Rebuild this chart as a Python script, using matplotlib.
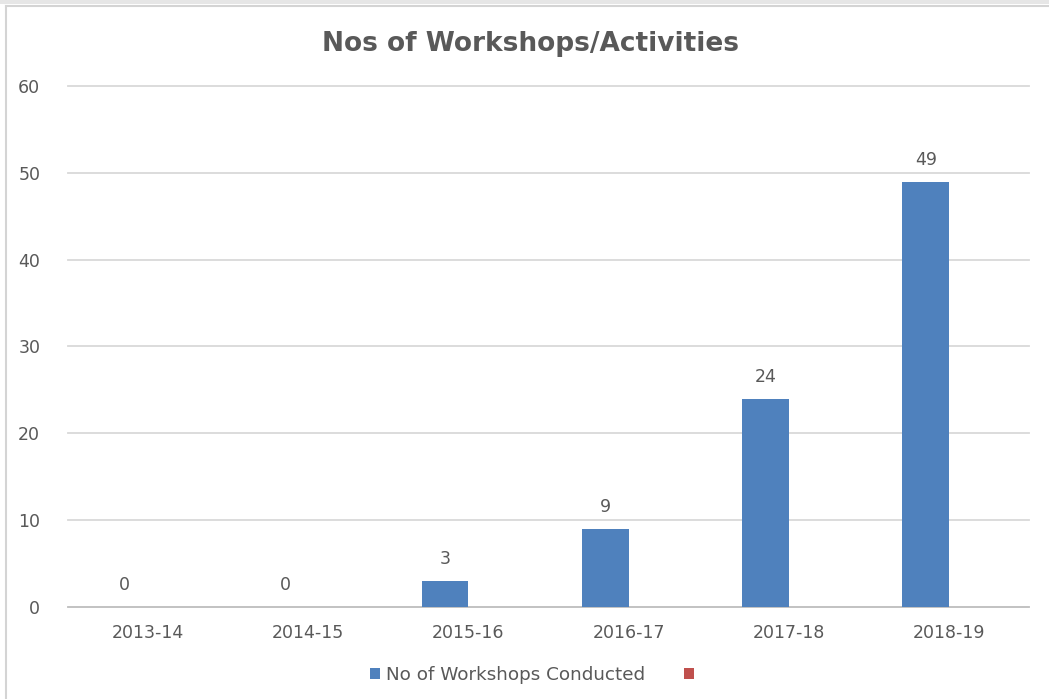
import matplotlib
matplotlib.use("Agg")
import matplotlib.pyplot as plt
from matplotlib.patches import Patch, Rectangle
import numpy as np

categories = ["2013-14", "2014-15", "2015-16", "2016-17", "2017-18", "2018-19"]
workshops = [0, 0, 3, 9, 24, 49]
second_series = [0, 0, 0, 0, 0, 0]
yticks = [0, 10, 20, 30, 40, 50, 60]

title = "Nos of Workshops/Activities"
legend_label = "No of Workshops Conducted"

BLUE = "#4F81BD"
RED = "#C0504D"
TXT = "#595959"
GRID = "#D9D9D9"

plt.rcParams['font.family'] = ['DejaVu Sans']

W, H = 1049, 699
fig = plt.figure(figsize=(W / 100, H / 100), dpi=100)
fig.patch.set_facecolor("white")

# screenshot frame
fig.add_artist(Rectangle((0, 1 - 4 / H), 1, 4 / H, transform=fig.transFigure,
                         facecolor="#E6E6E6", edgecolor="none"))
fig.add_artist(plt.Line2D([6 / W, 1], [1 - 5.5 / H, 1 - 5.5 / H], transform=fig.transFigure,
                          color="#D4D4D4", lw=1.5))
fig.add_artist(plt.Line2D([6 / W, 6 / W], [0, 1 - 5.5 / H], transform=fig.transFigure,
                          color="#D4D4D4", lw=1.5))

left, right = 68 / W, 1029 / W
bottom, top = (H - 607) / H, (H - 86) / H
ax = fig.add_axes([left, bottom, right - left, top - bottom])

x = np.arange(len(categories))
bw = 0.29
b1 = ax.bar(x - bw / 2, workshops, width=bw, color=BLUE, zorder=3)
b2 = ax.bar(x + bw / 2, second_series, width=bw, color=RED, zorder=3)
ax.bar_label(b1, labels=[str(v) for v in workshops], padding=9, color=TXT, fontsize=12.5)

ax.set_xlim(-0.5, len(categories) - 0.5)
ax.set_ylim(0, 60)
ax.set_yticks(yticks)
ax.set_yticklabels([str(t) for t in yticks])
ax.set_xticks(x)
ax.set_xticklabels(categories)
ax.tick_params(axis="y", length=0, pad=20, labelsize=12.5, labelcolor=TXT)
ax.tick_params(axis="x", length=0, pad=12, labelsize=12.5, labelcolor=TXT)
for s in ["left", "right", "top"]:
    ax.spines[s].set_visible(False)
ax.spines["bottom"].set_color("#BFBFBF")
ax.spines["bottom"].set_linewidth(1.2)
ax.yaxis.grid(True, color=GRID, lw=1.3, zorder=0)
for gl in ax.yaxis.get_gridlines():
    gl.set_clip_on(False)
ax.set_axisbelow(True)

fig.text(0.506, 1 - 44 / H, title, ha="center", va="center", fontsize=19,
         fontweight="bold", color=TXT)

handles = [Patch(facecolor=BLUE), Patch(facecolor=RED)]
fig.legend(handles, [legend_label, ""], loc="center", bbox_to_anchor=(0.510, 1 - 675 / H),
           ncol=2, frameon=False, fontsize=13.2, labelcolor=TXT, handlelength=0.55,
           handleheight=0.55, handletextpad=0.35, columnspacing=2.1)

fig.savefig("out.png", dpi=100)
